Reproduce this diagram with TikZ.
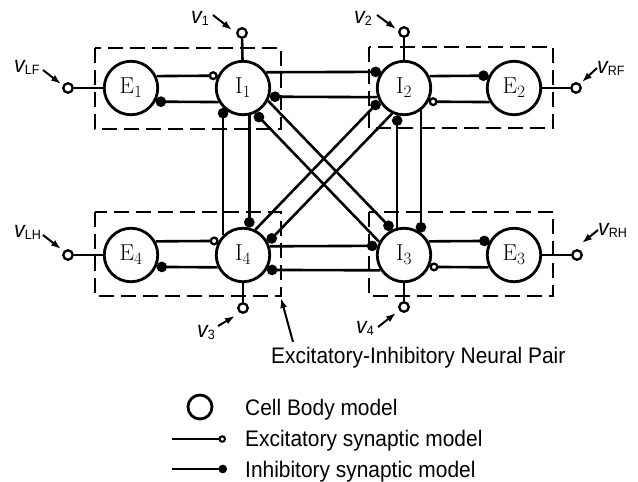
\documentclass[tikz,border=0pt]{standalone}
\usepackage{fontspec}
\newfontfamily\labfont{Liberation Sans}[FakeStretch=0.93]
\usetikzlibrary{arrows.meta}
\newcommand\myvlab[1]{{\labfont\fontsize{23}{23}\selectfont\itshape v}{\labfont\fontsize{13.5}{13.5}\selectfont\raisebox{-2pt}{#1}}}
\begin{document}
\begin{tikzpicture}[x=1pt,y=-1pt,
  cell/.style={circle,draw,line width=2.8pt,minimum size=53.5pt,inner sep=0pt,font=\fontsize{23}{23}\selectfont},
  conn/.style={line width=2.6pt},
  inh/.style={conn,-{Circle[length=10.5pt]}},
  exc/.style={conn,-{Circle[length=9pt,fill=white,line width=2.3pt]}},
  inp/.style={circle,draw,line width=2.3pt,minimum size=9.5pt,inner sep=0pt,fill=white},
  pairbox/.style={draw,line width=2.8pt,dash pattern=on 15pt off 7pt},
  inarr/.style={line width=2pt,-{Latex[length=10pt,width=7pt]}},
  vlab/.style={inner sep=0pt,anchor=base west},
  txt/.style={font=\labfont\fontsize{22.5}{24}\selectfont,inner sep=0pt,anchor=base west}
]
\useasboundingbox (0,0) rectangle (638,482);
% pair boxes
\draw[pairbox] (95,48) rectangle (281,129);
\draw[pairbox] (369,47) rectangle (553,128);
\draw[pairbox] (95,212) rectangle (281,296);
\draw[pairbox] (369,212) rectangle (553,296);
\coordinate (b4se) at (281,298);
% cells
\node[cell] (E1) at (131,88) {$\mathrm{E}_1$};
\node[cell] (I1) at (243,88) {$\mathrm{I}_1$};
\node[cell] (I2) at (404,88) {$\mathrm{I}_2$};
\node[cell] (E2) at (514,88) {$\mathrm{E}_2$};
\node[cell] (E4) at (131,255) {$\mathrm{E}_4$};
\node[cell] (I4) at (243,255) {$\mathrm{I}_4$};
\node[cell] (I3) at (404,255) {$\mathrm{I}_3$};
\node[cell] (E3) at (514,255) {$\mathrm{E}_3$};
% inputs
\node[inp] (vlf) at (68,88) {};
\node[inp] (vrf) at (576,88) {};
\node[inp] (vlh) at (68,255) {};
\node[inp] (vrh) at (577,255) {};
\node[inp] (v1) at (242,33) {};
\node[inp] (v2) at (404,32) {};
\node[inp] (v3) at (243,308) {};
\node[inp] (v4) at (404,307) {};
\draw[conn] (vlf) -- (E1);
\draw[conn] (vrf) -- (E2);
\draw[conn] (vlh) -- (E4);
\draw[conn] (vrh) -- (E3);
\draw[conn] (v1) -- (I1);
\draw[conn] (v2) -- (I2);
\draw[conn] (v3) -- (I4);
\draw[conn] (v4) -- (I3);
% E-I pairs
\draw[exc] (E1.25.1) -- (I1.154.9);
\draw[inh] (I1.-150.3) -- (E1.-29.7);
\draw[inh] (I2.25.1) -- (E2.154.9);
\draw[exc] (E2.-150.3) -- (I2.-29.7);
\draw[exc] (E4.29.7) -- (I4.150.3);
\draw[inh] (I4.-154.9) -- (E4.-25.1);
\draw[inh] (I3.29.7) -- (E3.150.3);
\draw[exc] (E3.-154.9) -- (I3.-25.1);
% I-I horizontal
\draw[inh] (I1.34.5) -- (I2.145.5);
\draw[inh] (I2.-161.4) -- (I1.-18.6);
\draw[inh] (I4.18.6) -- (I3.161.4);
\draw[inh] (I3.-147.9) -- (I4.-32.1);
% I-I vertical
\draw[inh] (I4.135.1) -- (I1.-135.1);
\draw[inh] (I1.-77.7) -- (I4.77.7);
\draw[inh] (I3.104.3) -- (I2.-104.3);
\draw[inh] (I2.-53.0) -- (I3.53.0);
% diagonals
\draw[inh] (I1.-27.5) -- (I3.115.4);
\draw[inh] (I3.152.55) -- (I1.-64.65);
\draw[inh] (I4.64.65) -- (I2.-152.55);
\draw[inh] (I2.-115.35) -- (I4.27.45);
% input labels
\node[vlab] (tLF) at (14,72) {\myvlab{LF}};
\node[vlab] (t1) at (191,23) {\myvlab{1}};
\node[vlab] (t2) at (354,23) {\myvlab{2}};
\node[vlab] (tRF) at (597,73) {\myvlab{RF}};
\node[vlab] (tLH) at (14,237) {\myvlab{LH}};
\node[vlab] (t3) at (197,337) {\myvlab{3}};
\node[vlab] (tRH) at (598,235) {\myvlab{RH}};
\node[vlab] (t4) at (356,333) {\myvlab{4}};
\coordinate (aLF) at (43,70); \coordinate (aLFt) at (61,84);
\coordinate (a1) at (213,15); \coordinate (a1t) at (232,30);
\coordinate (a2) at (377,15); \coordinate (a2t) at (396,29);
\coordinate (aRF) at (597,68); \coordinate (aRFt) at (582,82);
\coordinate (aLH) at (43,235); \coordinate (aLHt) at (61,249);
\coordinate (a3) at (218,326); \coordinate (a3t) at (235,316);
\coordinate (aRH) at (598,230); \coordinate (aRHt) at (582,243);
\coordinate (a4) at (378,327); \coordinate (a4t) at (396,313);
\draw[inarr] (aLF) -- (aLFt);
\draw[inarr] (a1) -- (a1t);
\draw[inarr] (a2) -- (a2t);
\draw[inarr] (aRF) -- (aRFt);
\draw[inarr] (aLH) -- (aLHt);
\draw[inarr] (a3) -- (a3t);
\draw[inarr] (aRH) -- (aRHt);
\draw[inarr] (a4) -- (a4t);
% pair label
\node[txt] (pl) at (271,363) {Excitatory-Inhibitory Neural Pair};
\coordinate (pla) at (293,342);
\draw[inarr] (pla) -- (b4se);
% legend
\node[circle,draw,line width=2.8pt,minimum size=24pt,inner sep=0pt] (lc) at (200,407) {};
\node[txt] (lt1) at (245,415) {Cell Body model};
\coordinate (le1) at (172,439); \coordinate (le2) at (226,439);
\draw[line width=2.3pt,-{Circle[length=7.5pt,fill=white,line width=2pt]}] (le1) -- (le2);
\node[txt] (lt2) at (245,446.5) {Excitatory synaptic model};
\coordinate (li1) at (172,469); \coordinate (li2) at (227,469);
\draw[line width=2.3pt,-{Circle[length=8.5pt]}] (li1) -- (li2);
\node[txt] (lt3) at (245,477) {Inhibitory synaptic model};
\end{tikzpicture}
\end{document}
